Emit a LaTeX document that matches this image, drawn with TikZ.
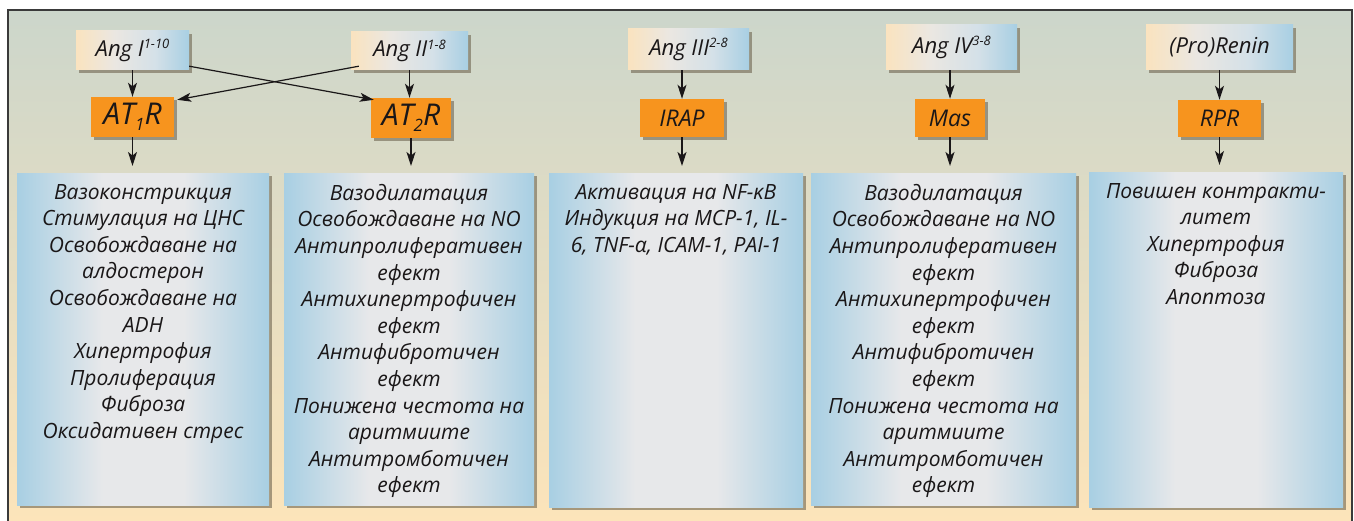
\documentclass[tikz,border=0pt]{standalone}
\usepackage{fontspec}
\newfontfamily\bgfont{Open Sans}[Script=Cyrillic,Language=Bulgarian]
\usetikzlibrary{arrows.meta,shadows}
\definecolor{peach}{HTML}{FAE3BF}
\definecolor{lblue}{HTML}{A8CFE3}
\definecolor{lgrey}{HTML}{E7E8EA}
\definecolor{orng}{HTML}{F7941E}
\definecolor{bgtop}{HTML}{CCD6CB}
\definecolor{bgbot}{HTML}{FCE4BA}
\definecolor{txt}{HTML}{1A1718}
\definecolor{framec}{HTML}{3A3A3A}
\definecolor{shadowc}{HTML}{6E6450}
\pgfdeclarehorizontalshading{topgrad}{100bp}{color(0bp)=(peach); color(25bp)=(peach); color(42bp)=(lgrey!80!peach); color(60bp)=(lgrey!70!lblue); color(75bp)=(lblue); color(100bp)=(lblue)}
\pgfdeclarehorizontalshading{resgrad}{100bp}{color(0bp)=(lblue); color(25bp)=(lblue); color(42bp)=(lgrey); color(58bp)=(lgrey); color(75bp)=(lblue); color(100bp)=(lblue)}
\newcommand{\mysup}[1]{\raisebox{7.5pt}{\fontsize{13}{13}\selectfont #1}}
\newcommand{\mysub}[1]{\raisebox{-6.5pt}{\fontsize{17}{17}\selectfont #1}}
\begin{document}
\begin{tikzpicture}[x=1pt,y=-1pt,
  shd/.style={drop shadow={shadow xshift=3pt,shadow yshift=-3pt,fill=shadowc,opacity=0.6}},
  topbox/.style={shading=topgrad,shd,inner sep=0pt,text=txt,font=\bgfont\itshape\fontsize{22}{24}\selectfont},
  recbox/.style={fill=orng,shd,inner sep=0pt,text=txt,font=\bgfont\itshape\fontsize{23}{24}\selectfont},
  bigrec/.style={font=\bgfont\itshape\fontsize{30}{32}\selectfont},
  resbox/.style={shading=resgrad,shd,anchor=north,inner sep=0pt},
  restext/.style={anchor=north,align=center,inner sep=0pt,text=txt,font=\bgfont\itshape\fontsize{21}{26.6}\selectfont},
  arr/.style={-{Stealth[length=14pt,width=9pt,inset=3.5pt]},line width=1.2pt,draw=txt},
  darr/.style={arr,shorten >=7pt}]
\useasboundingbox (0,0) rectangle (1354,521);
\fill[top color=bgtop,bottom color=bgbot] (8,10) rectangle (1352,521);
\draw[line width=1.5pt,draw=framec] (8,521) -- (8,10) -- (1352,10) -- (1352,521);
% top boxes
\node[topbox,minimum width=113pt,minimum height=39pt] (a1) at (132.5,50.5) {Ang I\mysup{1-10}};
\node[topbox,minimum width=117pt,minimum height=38pt] (a2) at (409.5,51) {Ang II\mysup{1-8}};
\node[topbox,minimum width=121pt,minimum height=41pt] (a3) at (688.5,49.5) {Ang III\mysup{2-8}};
\node[topbox,minimum width=131pt,minimum height=45pt] (a4) at (951.5,47.5) {Ang IV\mysup{3-8}};
\node[topbox,minimum width=147pt,minimum height=45pt] (a5) at (1219.5,47.5) {(Pro)Renin};
% receptors
\node[recbox,bigrec,minimum width=83pt,minimum height=40pt] (o1) at (132.5,117) {AT\mysub{1}R};
\node[recbox,bigrec,minimum width=80pt,minimum height=40pt] (o2) at (411,118) {AT\mysub{2}R};
\node[recbox,minimum width=84pt,minimum height=38pt] (o3) at (682,118) {IRAP};
\node[recbox,minimum width=70pt,minimum height=38pt] (o4) at (950,118) {Mas};
\node[recbox,minimum width=83pt,minimum height=37pt] (o5) at (1219.5,118.5) {RPR};
% result boxes
\node[resbox,minimum width=252pt,minimum height=332pt] (r1) at (143,173) {};
\node[resbox,minimum width=250pt,minimum height=332pt] (r2) at (409,173) {};
\node[resbox,minimum width=254pt,minimum height=334pt] (r3) at (676,173) {};
\node[resbox,minimum width=265pt,minimum height=332pt] (r4) at (943.5,173) {};
\node[resbox,minimum width=254pt,minimum height=335pt] (r5) at (1216,172) {};
% texts
\node[restext] (t1) at ([yshift=-11pt]r1.north) {Вазоконстрикция\\Стимулация на ЦНС\\Освобождаване на\\алдостерон\\Освобождаване на\\ADH\\Хипертрофия\\Пролиферация\\Фиброза\\Оксидативен стрес};
\node[restext] (t2) at ([yshift=-11pt]r2.north) {Вазодилатация\\Освобождаване на NO\\Антипролиферативен\\ефект\\Антихипертрофичен\\ефект\\Антифибротичен\\ефект\\Понижена честота на\\аритмиите\\Антитромботичен\\ефект};
\node[restext] (t3) at ([yshift=-11pt]r3.north) {Активация на NF-κB\\Индукция на MCP-1, IL-\\6, TNF-α, ICAM-1, PAI-1};
\node[restext] (t4) at ([yshift=-11pt]r4.north) {Вазодилатация\\Освобождаване на NO\\Антипролиферативен\\ефект\\Антихипертрофичен\\ефект\\Антифибротичен\\ефект\\Понижена честота на\\аритмиите\\Антитромботичен\\ефект};
\node[restext] (t5) at ([yshift=-11pt]r5.north) {Повишен контракти-\\литет\\Хипертрофия\\Фиброза\\Апоптоза};
% arrows
\draw[arr] (a1.south) -- (a1.south |- o1.north);
\draw[arr] (a2.south) -- (a2.south |- o2.north);
\draw[arr] (o3.north |- a3.south) -- (o3.north);
\draw[arr] (o4.north |- a4.south) -- (o4.north);
\draw[arr] (o5.north |- a5.south) -- (o5.north);
\draw[arr] ([yshift=4pt]a1.south east) -- ([shift={(3pt,-2pt)}]o2.north west);
\draw[arr] ([shift={(8pt,4pt)}]a2.south west) -- ([shift={(3pt,-3pt)}]o1.north east);
\draw[darr] (o1.south) -- (o1.south |- r1.north);
\draw[darr] (o2.south) -- (o2.south |- r2.north);
\draw[darr] (o3.south) -- (o3.south |- r3.north);
\draw[darr] (o4.south) -- (o4.south |- r4.north);
\draw[darr] (o5.south) -- (o5.south |- r5.north);
\end{tikzpicture}
\end{document}
